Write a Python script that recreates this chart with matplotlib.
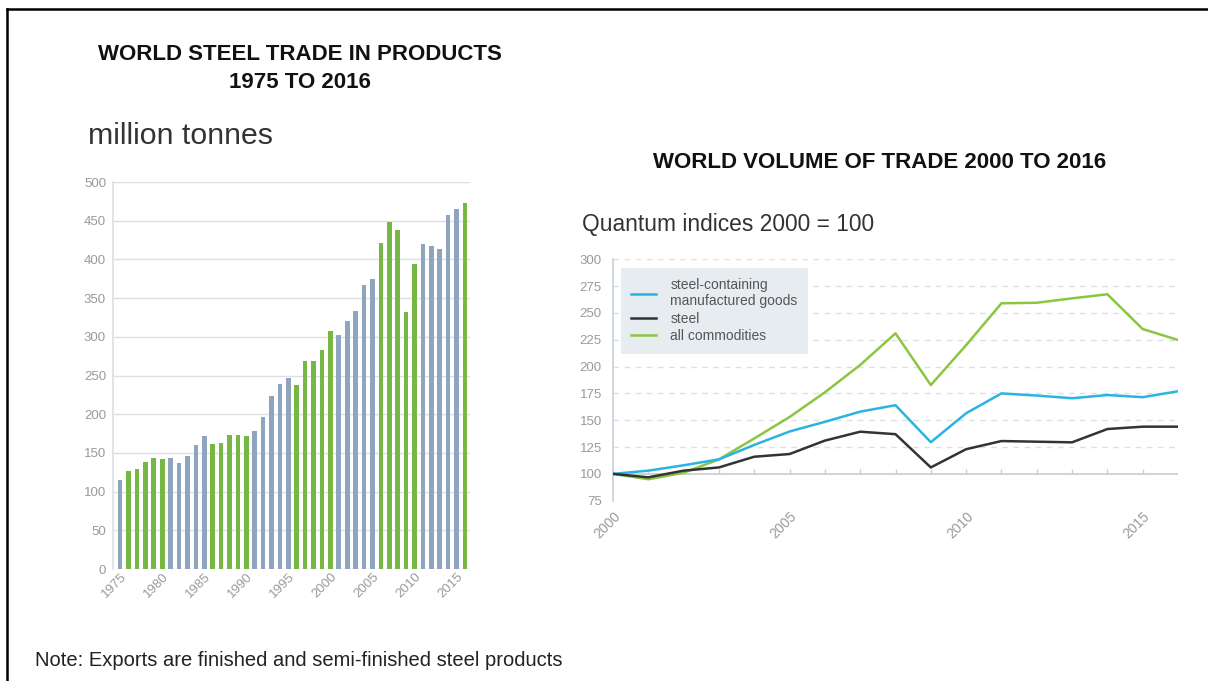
import matplotlib
matplotlib.use('Agg')
import matplotlib.pyplot as plt
from matplotlib.lines import Line2D

# ---------------- data ----------------
bar_years = list(range(1975, 2017))
steel_trade = [115, 126.5, 128.7, 138.5, 144, 141.6, 144, 136.4, 146, 159.7,
               171.7, 162, 162.7, 172.5, 172.5, 171.7, 178, 196.6, 223, 239.5,
               247.4, 237.5, 268.5, 268.8, 282.3, 308, 301.7, 320, 333, 367.5,
               375, 421, 448.5, 438.5, 331.4, 394, 420.5, 417, 413.5, 457,
               464.8, 473.4]
bar_xticks = [1975, 1980, 1985, 1990, 1995, 2000, 2005, 2010, 2015]
bar_yticks = [0, 50, 100, 150, 200, 250, 300, 350, 400, 450, 500]

line_years = list(range(2000, 2017))
steel_goods = [100, 103, 108, 113.5, 127, 139.5, 148.5, 158, 164, 129.5,
               156.5, 175, 173, 170.5, 173.5, 171.5, 177]
steel = [100, 96.8, 103, 106, 116, 118.5, 131, 139.3, 137, 106,
         123, 130.6, 130, 129.4, 141.8, 144, 144]
all_commodities = [100, 95, 101, 113.5, 133, 153, 176, 201.5, 231, 182.8,
                   220, 259, 259.5, 263.6, 267.4, 235, 224.8]
line_xticks = [2000, 2005, 2010, 2015]
line_yticks = [75, 100, 125, 150, 175, 200, 225, 250, 275, 300]
series_labels = ['steel-containing\nmanufactured goods', 'steel', 'all commodities']

# ---------------- style ----------------
plt.rcParams['font.family'] = ['Liberation Sans', 'DejaVu Sans']
BLUE_BAR = '#8fa4bd'
GREEN_BAR = '#76b843'
TICK_C = '#9a9a9a'
GRID_C = '#dcdfe3'
C_GOODS = '#2bb3e3'
C_STEEL = '#333333'
C_ALL = '#8cc540'

W, H = 1208, 681
fig = plt.figure(figsize=(W / 100, H / 100), dpi=100)
fig.patch.set_facecolor('white')

def fx(px):
    return px / W

def fy(py):
    return 1 - py / H

# ---------------- left: bar chart ----------------
axL = fig.add_axes([fx(113), fy(569), fx(470) - fx(113), fy(182) - fy(569)])
colors = [GREEN_BAR if ((y - 1976) // 5) % 2 == 0 else BLUE_BAR for y in bar_years]
axL.bar(bar_years, steel_trade, width=0.55, color=colors, zorder=3)
axL.set_xlim(1974.15, 2016.6)
axL.set_ylim(0, 500)
axL.set_yticks(bar_yticks)
axL.set_xticks(bar_xticks)
axL.set_xticklabels([str(t) for t in bar_xticks], rotation=45, ha='right',
                    va='top', rotation_mode='anchor')
axL.grid(axis='y', color=GRID_C, lw=1.0, zorder=0)
for s in ['top', 'right', 'bottom']:
    axL.spines[s].set_visible(False)
axL.spines['left'].set_color(GRID_C)
axL.spines['left'].set_linewidth(1.2)
axL.tick_params(axis='y', length=0, pad=5, labelsize=9.5, labelcolor=TICK_C)
axL.tick_params(axis='x', length=0, pad=1, labelsize=9.5, labelcolor=TICK_C)

# ---------------- right: line chart ----------------
axR = fig.add_axes([fx(613), fy(500.7), fx(1178) - fx(613), fy(259.3) - fy(500.7)])
axR.plot(line_years, steel_goods, color=C_GOODS, lw=1.8, label=series_labels[0], zorder=4)
axR.plot(line_years, steel, color=C_STEEL, lw=1.8, label=series_labels[1], zorder=4)
axR.plot(line_years, all_commodities, color=C_ALL, lw=1.8, label=series_labels[2], zorder=3)
axR.set_xlim(2000, 2016)
axR.set_ylim(75, 300)
axR.set_yticks(line_yticks)
axR.set_xticks(line_xticks)
axR.set_xticklabels([str(t) for t in line_xticks], rotation=45, ha='right',
                    va='top', rotation_mode='anchor')
for yv in line_yticks:
    if yv > 100:
        axR.axhline(yv, color=GRID_C, lw=1.0, ls=(0, (4, 4)), zorder=1)
axR.axhline(100, color='#c8ccd2', lw=1.2, zorder=2)
axR.vlines(line_years, 100, 104.5, color='#c8ccd2', lw=1.0, zorder=2)
for s in ['top', 'right', 'bottom']:
    axR.spines[s].set_visible(False)
axR.spines['left'].set_color('#c8d0da')
axR.spines['left'].set_linewidth(1.2)
axR.tick_params(axis='y', length=0, pad=8, labelsize=9.5, labelcolor=TICK_C)
axR.tick_params(axis='x', length=0, pad=6, labelsize=10, labelcolor=TICK_C)

leg = axR.legend(loc='upper left', bbox_to_anchor=(0.014, 0.965), frameon=True,
                 fancybox=False, facecolor='#e7ecf1', edgecolor='none', framealpha=1,
                 fontsize=10, handlelength=1.8, handletextpad=1.0, borderpad=0.75,
                 labelspacing=0.25, borderaxespad=0)
for t in leg.get_texts():
    t.set_color('#555555')

# ---------------- texts ----------------
fig.text(fx(300), fy(55), 'WORLD STEEL TRADE IN PRODUCTS', ha='center', va='center',
         fontsize=16, fontweight='bold', color='#111111')
fig.text(fx(300), fy(82), '1975 TO 2016', ha='center', va='center',
         fontsize=16, fontweight='bold', color='#111111')
fig.text(fx(88), fy(136), 'million tonnes', ha='left', va='center',
         fontsize=21.8, color='#333333')
fig.text(fx(880), fy(162), 'WORLD VOLUME OF TRADE 2000 TO 2016', ha='center', va='center',
         fontsize=16, fontweight='bold', color='#111111')
fig.text(fx(582), fy(225), 'Quantum indices 2000 = 100', ha='left', va='center',
         fontsize=16.4, color='#333333')
fig.text(fx(35), fy(660), 'Note: Exports are finished and semi-finished steel products',
         ha='left', va='center', fontsize=14.5, color='#222222')

# ---------------- frame ----------------
fig.add_artist(Line2D([fx(7), 1.0], [fy(9), fy(9)], color='black', lw=1.8,
                      transform=fig.transFigure))
fig.add_artist(Line2D([fx(7), fx(7)], [fy(9), 0.0], color='black', lw=1.8,
                      transform=fig.transFigure))

fig.savefig('out.png', dpi=100, facecolor='white')
